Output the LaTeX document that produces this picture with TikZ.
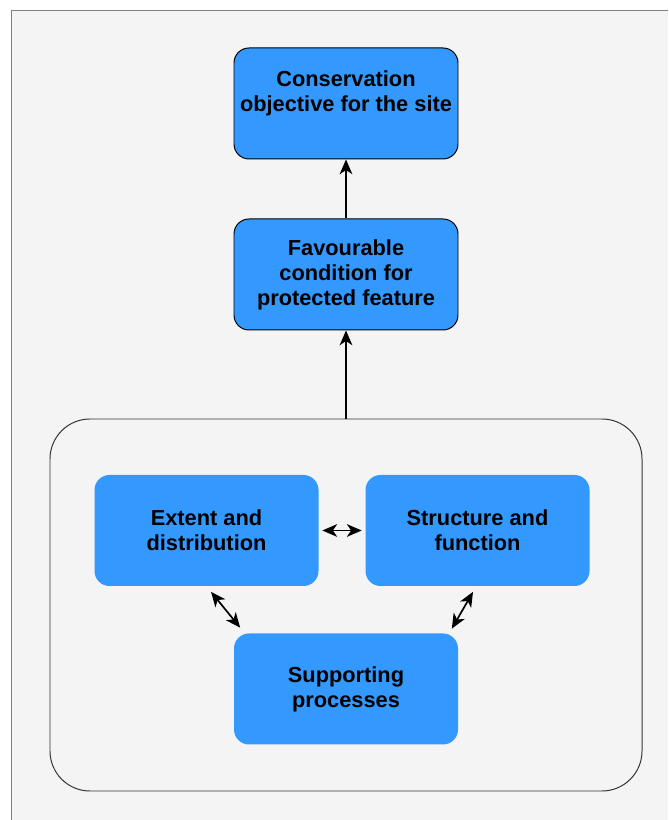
\documentclass[tikz,border=0pt]{standalone}
\usepackage{fontspec}
\setmainfont{Liberation Sans}
\usetikzlibrary{arrows.meta, positioning}
\definecolor{boxblue}{HTML}{3399FF}
\definecolor{panel}{HTML}{F4F4F4}
\definecolor{frame}{HTML}{808080}

\begin{document}
\begin{tikzpicture}[<->, >={Stealth[length=10.5pt,width=9pt,inset=3pt]}, line width=1.2pt, node distance=4.275cm,
	boxtext/.style={font=\fontsize{15.5}{17.8}\selectfont\bfseries, align=center},
	block/.style={rectangle, rounded corners=0.375cm, fill=boxblue, minimum width=5.6cm, minimum height=2.775cm, inner sep=0pt, boxtext},
	outlined/.style={block, draw=black, line width=0.7pt},
	group/.style={rectangle, rounded corners=1cm, draw=black!80, line width=0.7pt, minimum width=14.8cm, minimum height=9.3cm}]
	
	% Background
	\useasboundingbox (0,0) rectangle (16.7,20.5);
	\fill[-, panel] (0.275,0) rectangle (16.7,20.225);
	\draw[-, frame, line width=0.7pt] (0.275,0) -- (0.275,20.225) -- (16.7,20.225);
	
	% Boxes
	\node[outlined] (fav) at (8.65,13.6375) {Favourable\\condition for\\protected feature};
	\node[outlined, above of=fav] (obj) {};
	\node[boxtext, anchor=north, inner sep=0pt] (objtxt) at ([yshift=-0.55cm]obj.north) {Conservation\\objective for the site};
	\node[group, below of=fav, node distance=8.2625cm] (cont) {};
	\node[block] (ext) at (5.1625,7.2375) {Extent and\\distribution};
	\node[block, right of=ext, node distance=6.775cm] (str) {Structure and\\function};
	\node[block] (sup) at (8.65,3.275) {Supporting\\processes};
	
	% Edges
	\draw[->] (fav) -- (obj);
	\draw[->] (cont.north -| fav) -- (fav);
	\draw[shorten <=0.075cm, shorten >=0.075cm] (ext) -- (str);
	\draw ([shift={(0.1125,-0.125)}]ext.south) -- ([shift={(0.175,0.125)}]sup.north west);
	\draw ([shift={(-0.1125,-0.125)}]str.south) -- ([shift={(-0.175,0.1)}]sup.north east);
	
\end{tikzpicture}
\end{document}
